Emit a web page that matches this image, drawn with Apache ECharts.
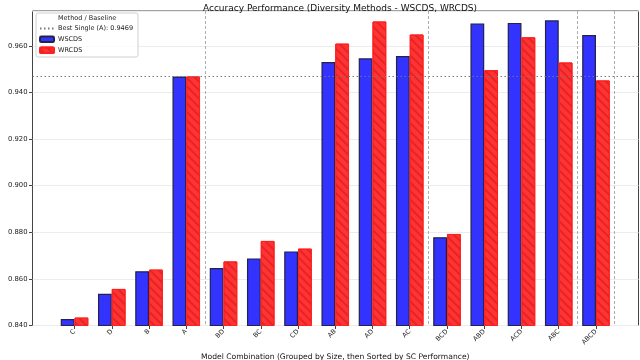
<!DOCTYPE html>
<html>
<head>
<meta charset="utf-8">
<script src="https://cdn.jsdelivr.net/npm/echarts@6/dist/echarts.min.js"></script>
<style>
  html, body { margin: 0; padding: 0; background: #fff; }
  #chart { width: 640px; height: 360px; }
</style>
</head>
<body>
<div id="chart"></div>
<script>
const categories = ['C', 'D', 'B', 'A', 'BD', 'BC', 'CD', 'AB', 'AD', 'AC', 'BCD', 'ABD', 'ACD', 'ABC', 'ABCD']
const wscds = [0.8428, 0.8536, 0.8633, 0.9469, 0.8647, 0.8688, 0.8718, 0.9531, 0.9547, 0.9557, 0.8779, 0.9696, 0.9699, 0.9710, 0.9647]
const wrcds = [0.8434, 0.8557, 0.8640, 0.9469, 0.8675, 0.8763, 0.8730, 0.9610, 0.9705, 0.9649, 0.8793, 0.9496, 0.9637, 0.9529, 0.9452]
const bestSingle = 0.9469
// first category of each new size group (dashed separators)
const groupStarts = [4, 10, 14]

const font = 'DejaVu Sans'
const baseName = 'Best Single (A): ' + bestSingle.toFixed(4)
const chart = echarts.init(document.getElementById('chart'))

chart.setOption({
  animation: false,
  textStyle: { fontFamily: font },
  title: {
    text: 'Accuracy Performance (Diversity Methods - WSCDS, WRCDS)',
    left: 335,
    textAlign: 'center',
    top: -1,
    textStyle: { fontSize: 9, fontWeight: 'normal', color: '#111', fontFamily: font }
  },
  legend: {
    left: 36,
    top: 13,
    orient: 'vertical',
    padding: [12, 5, 3, 3],
    itemGap: 3.5,
    itemWidth: 14,
    itemHeight: 5.5,
    borderColor: '#d0d0d0',
    borderWidth: 1,
    borderRadius: 2,
    backgroundColor: 'rgba(255,255,255,0.85)',
    textStyle: { fontSize: 6.5, color: '#222', fontFamily: font, padding: [0, 0, 0, -1] },
    data: [
      { name: baseName, itemStyle: { opacity: 0 } },
      'WSCDS',
      'WRCDS'
    ]
  },
  graphic: [{
    type: 'text',
    left: 58,
    top: 15,
    z: 100,
    style: { text: 'Method / Baseline', fontSize: 6.5, fill: '#222', fontFamily: font }
  }],
  grid: [
    { left: 55.9, right: 25.4, top: 11, bottom: 34.5, outerBoundsMode: 'none' },
    { left: 32.5, right: 1.5, top: 11, bottom: 34.5, outerBoundsMode: 'none', show: true, borderColor: '#444', borderWidth: 1 }
  ],
  xAxis: [
    {
      type: 'category',
      gridIndex: 0,
      data: categories,
      axisLine: { show: false },
      axisTick: { show: true, alignWithLabel: true, length: 3.5, lineStyle: { color: '#444' } },
      axisLabel: { rotate: 45, fontSize: 6.5, color: '#222', margin: 5, interval: 0 },
      splitLine: {
        show: true,
        interval: (i) => groupStarts.includes(i),
        lineStyle: { color: '#999', type: [3, 2], width: 0.8 }
      },
      name: 'Model Combination (Grouped by Size, then Sorted by SC Performance)',
      nameLocation: 'middle',
      nameGap: 25,
      nameTextStyle: { fontSize: 7.6, color: '#111' }
    },
    { type: 'value', gridIndex: 1, min: 0, max: 1, show: false }
  ],
  yAxis: [
    { type: 'value', gridIndex: 0, min: 0.84, max: 0.975, interval: 0.02, show: false, splitLine: { show: false } },
    {
      type: 'value',
      gridIndex: 1,
      min: 0.84,
      max: 0.975,
      interval: 0.02,
      axisLine: { show: false },
      axisTick: { show: true, length: 3.5, lineStyle: { color: '#444' } },
      axisLabel: { fontSize: 6.8, color: '#222', margin: 5, showMaxLabel: false, formatter: (v) => v.toFixed(3) },
      splitLine: { show: true, lineStyle: { color: '#ececec', width: 1 } },
      name: 'Accuracy Score',
      nameLocation: 'middle',
      nameGap: 24,
      nameTextStyle: { fontSize: 7.6, color: '#111' }
    }
  ],
  series: [
    {
      name: baseName,
      type: 'line',
      xAxisIndex: 1,
      yAxisIndex: 1,
      symbol: 'none',
      z: 5,
      lineStyle: { color: '#777', width: 1, type: [1.5, 2.5] },
      itemStyle: { color: '#777' },
      data: [[0, bestSingle], [1, bestSingle]]
    },
    {
      name: 'WSCDS',
      type: 'bar',
      xAxisIndex: 0,
      yAxisIndex: 0,
      barWidth: '37%',
      barGap: '0%',
      itemStyle: { color: '#3333ff', borderColor: '#22224a', borderWidth: 1.2 },
      data: wscds
    },
    {
      name: 'WRCDS',
      type: 'bar',
      xAxisIndex: 0,
      yAxisIndex: 0,
      barWidth: '37%',
      barGap: '0%',
      itemStyle: {
        color: '#ff3333',
        borderColor: '#ff2020',
        borderWidth: 1,
        decal: {
          symbol: 'rect',
          color: 'rgba(170,0,0,0.3)',
          dashArrayX: [1, 0],
          dashArrayY: [1.2, 3.2],
          rotation: Math.PI / 4
        }
      },
      data: wrcds
    }
  ]
})
</script>
</body>
</html>
